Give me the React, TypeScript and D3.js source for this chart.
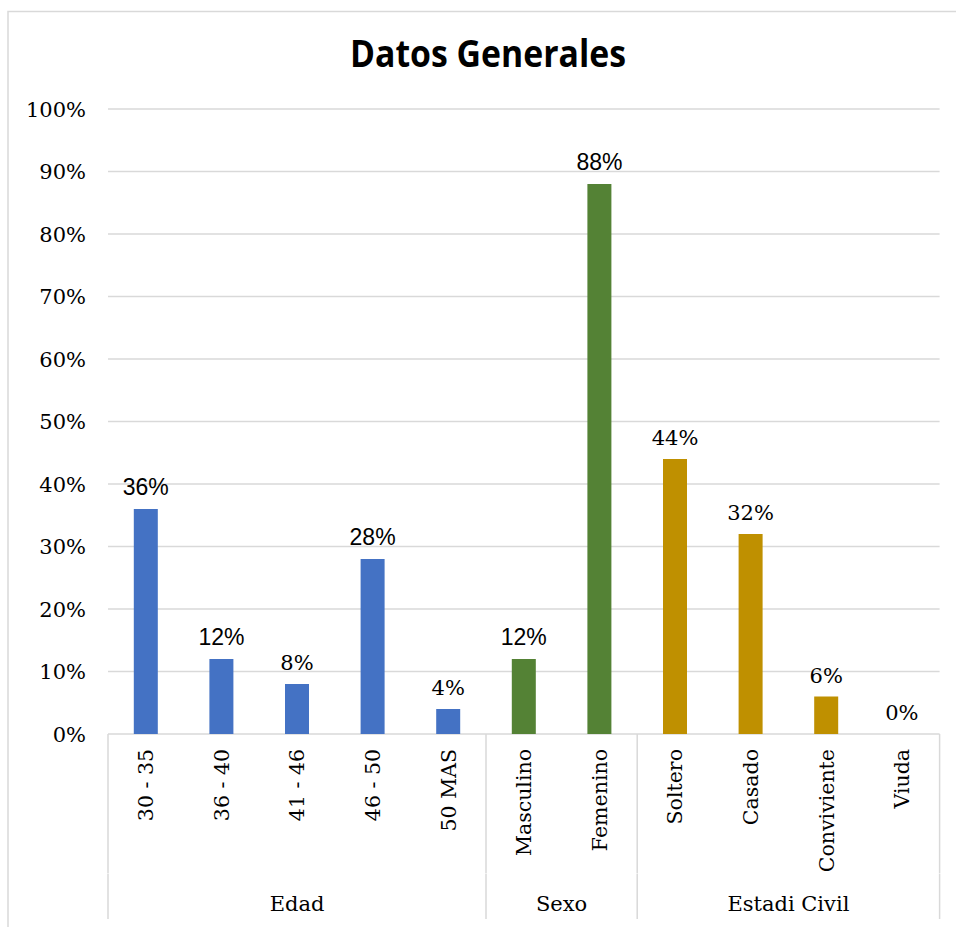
import React from "react";
import * as d3 from "d3";

const categories = ["30 - 35", "36 - 40", "41 - 46", "46 - 50", "50 MAS", "Masculino", "Femenino", "Soltero", "Casado", "Conviviente", "Viuda"];
const values = [0.36, 0.12, 0.08, 0.28, 0.04, 0.12, 0.88, 0.44, 0.32, 0.06, 0.0];
const groupNames = ["Edad", "Sexo", "Estadi Civil"];
const groupSizes = [5, 2, 4];
const yTickValues = [0, 0.1, 0.2, 0.3, 0.4, 0.5, 0.6, 0.7, 0.8, 0.9, 1.0];
const title = "Datos Generales";

// styling (kept separate from data)
const groupColors = ["#4472C4", "#548235", "#BF9000"];
const sansLabelIndex = new Set([0, 1, 3, 5, 6]);

const W = 956;
const H = 927;
const plotLeft = 108;
const plotRight = 939.6;
const yTop = 109;
const yBottom = 734;
const SERIF = "'DejaVu Serif', serif";
const SANS = "'Liberation Sans', Arial, sans-serif";
const GRID = "#d9d9d9";

export default function App() {
  const pi = 1 - 24 / 75.6;
  const x = d3.scaleBand<string>().domain(categories).range([plotLeft, plotRight]).paddingInner(pi).paddingOuter(pi / 2);
  const y = d3.scaleLinear().domain([0, 1]).range([yBottom, yTop]);
  const fmt = d3.format(".0%");

  const catGroup: number[] = [];
  groupSizes.forEach((s, gi) => { for (let k = 0; k < s; k++) catGroup.push(gi); });

  const step = x.step();
  const bounds: number[] = [plotLeft];
  let acc = 0;
  groupSizes.forEach((s) => { acc += s; bounds.push(plotLeft + step * acc); });

  return (
    <svg width={W} height={H} style={{ position: "absolute", left: 0, top: 0, background: "#fff" }}>
      <rect x={0} y={0} width={W} height={H} fill="#fff" />
      <rect x={8} y={11.5} width={W + 20} height={H + 20} fill="none" stroke={GRID} strokeWidth={1.5} />
      <text x={488} y={67} textAnchor="middle" fontFamily="'Open Sans', sans-serif" fontWeight="bold" fontSize={37} textLength={276} lengthAdjust="spacingAndGlyphs" fill="#000">{title}</text>

      {yTickValues.map((t) => (
        <g key={t}>
          <line x1={plotLeft} x2={plotRight} y1={y(t)} y2={y(t)} stroke={GRID} strokeWidth={1.5} />
          <text x={86} y={y(t)} dy="0.36em" textAnchor="end" fontFamily={SERIF} fontSize={21} fill="#000">{fmt(t)}</text>
        </g>
      ))}

      {bounds.map((bx, i) => (
        <g key={"b" + i}>
          <line x1={bx} x2={bx} y1={yBottom} y2={873} stroke={GRID} strokeWidth={1.5} />
          <line x1={bx} x2={bx} y1={873.5} y2={919} stroke={GRID} strokeWidth={1.5} />
        </g>
      ))}

      {categories.map((c, i) => {
        const bx = x(c)!;
        const cx = bx + x.bandwidth() / 2;
        const v = values[i];
        const sans = sansLabelIndex.has(i);
        return (
          <g key={c}>
            {v > 0 && (
              <rect x={bx} y={y(v)} width={x.bandwidth()} height={yBottom - y(v)} fill={groupColors[catGroup[i]]} />
            )}
            <text x={cx} y={y(v) - 14} textAnchor="middle" fontFamily={sans ? SANS : SERIF} fontSize={sans ? 23 : 21} fill="#000">{fmt(v)}</text>
            <text transform={`translate(${cx},749) rotate(-90)`} textAnchor="end" dy="0.36em" fontFamily={SERIF} fontSize={20.5} fill="#000">{c}</text>
          </g>
        );
      })}

      {groupNames.map((g, gi) => (
        <text key={g} x={(bounds[gi] + bounds[gi + 1]) / 2} y={911} textAnchor="middle" fontFamily={SERIF} fontSize={21} fill="#000">{g}</text>
      ))}
    </svg>
  );
}
